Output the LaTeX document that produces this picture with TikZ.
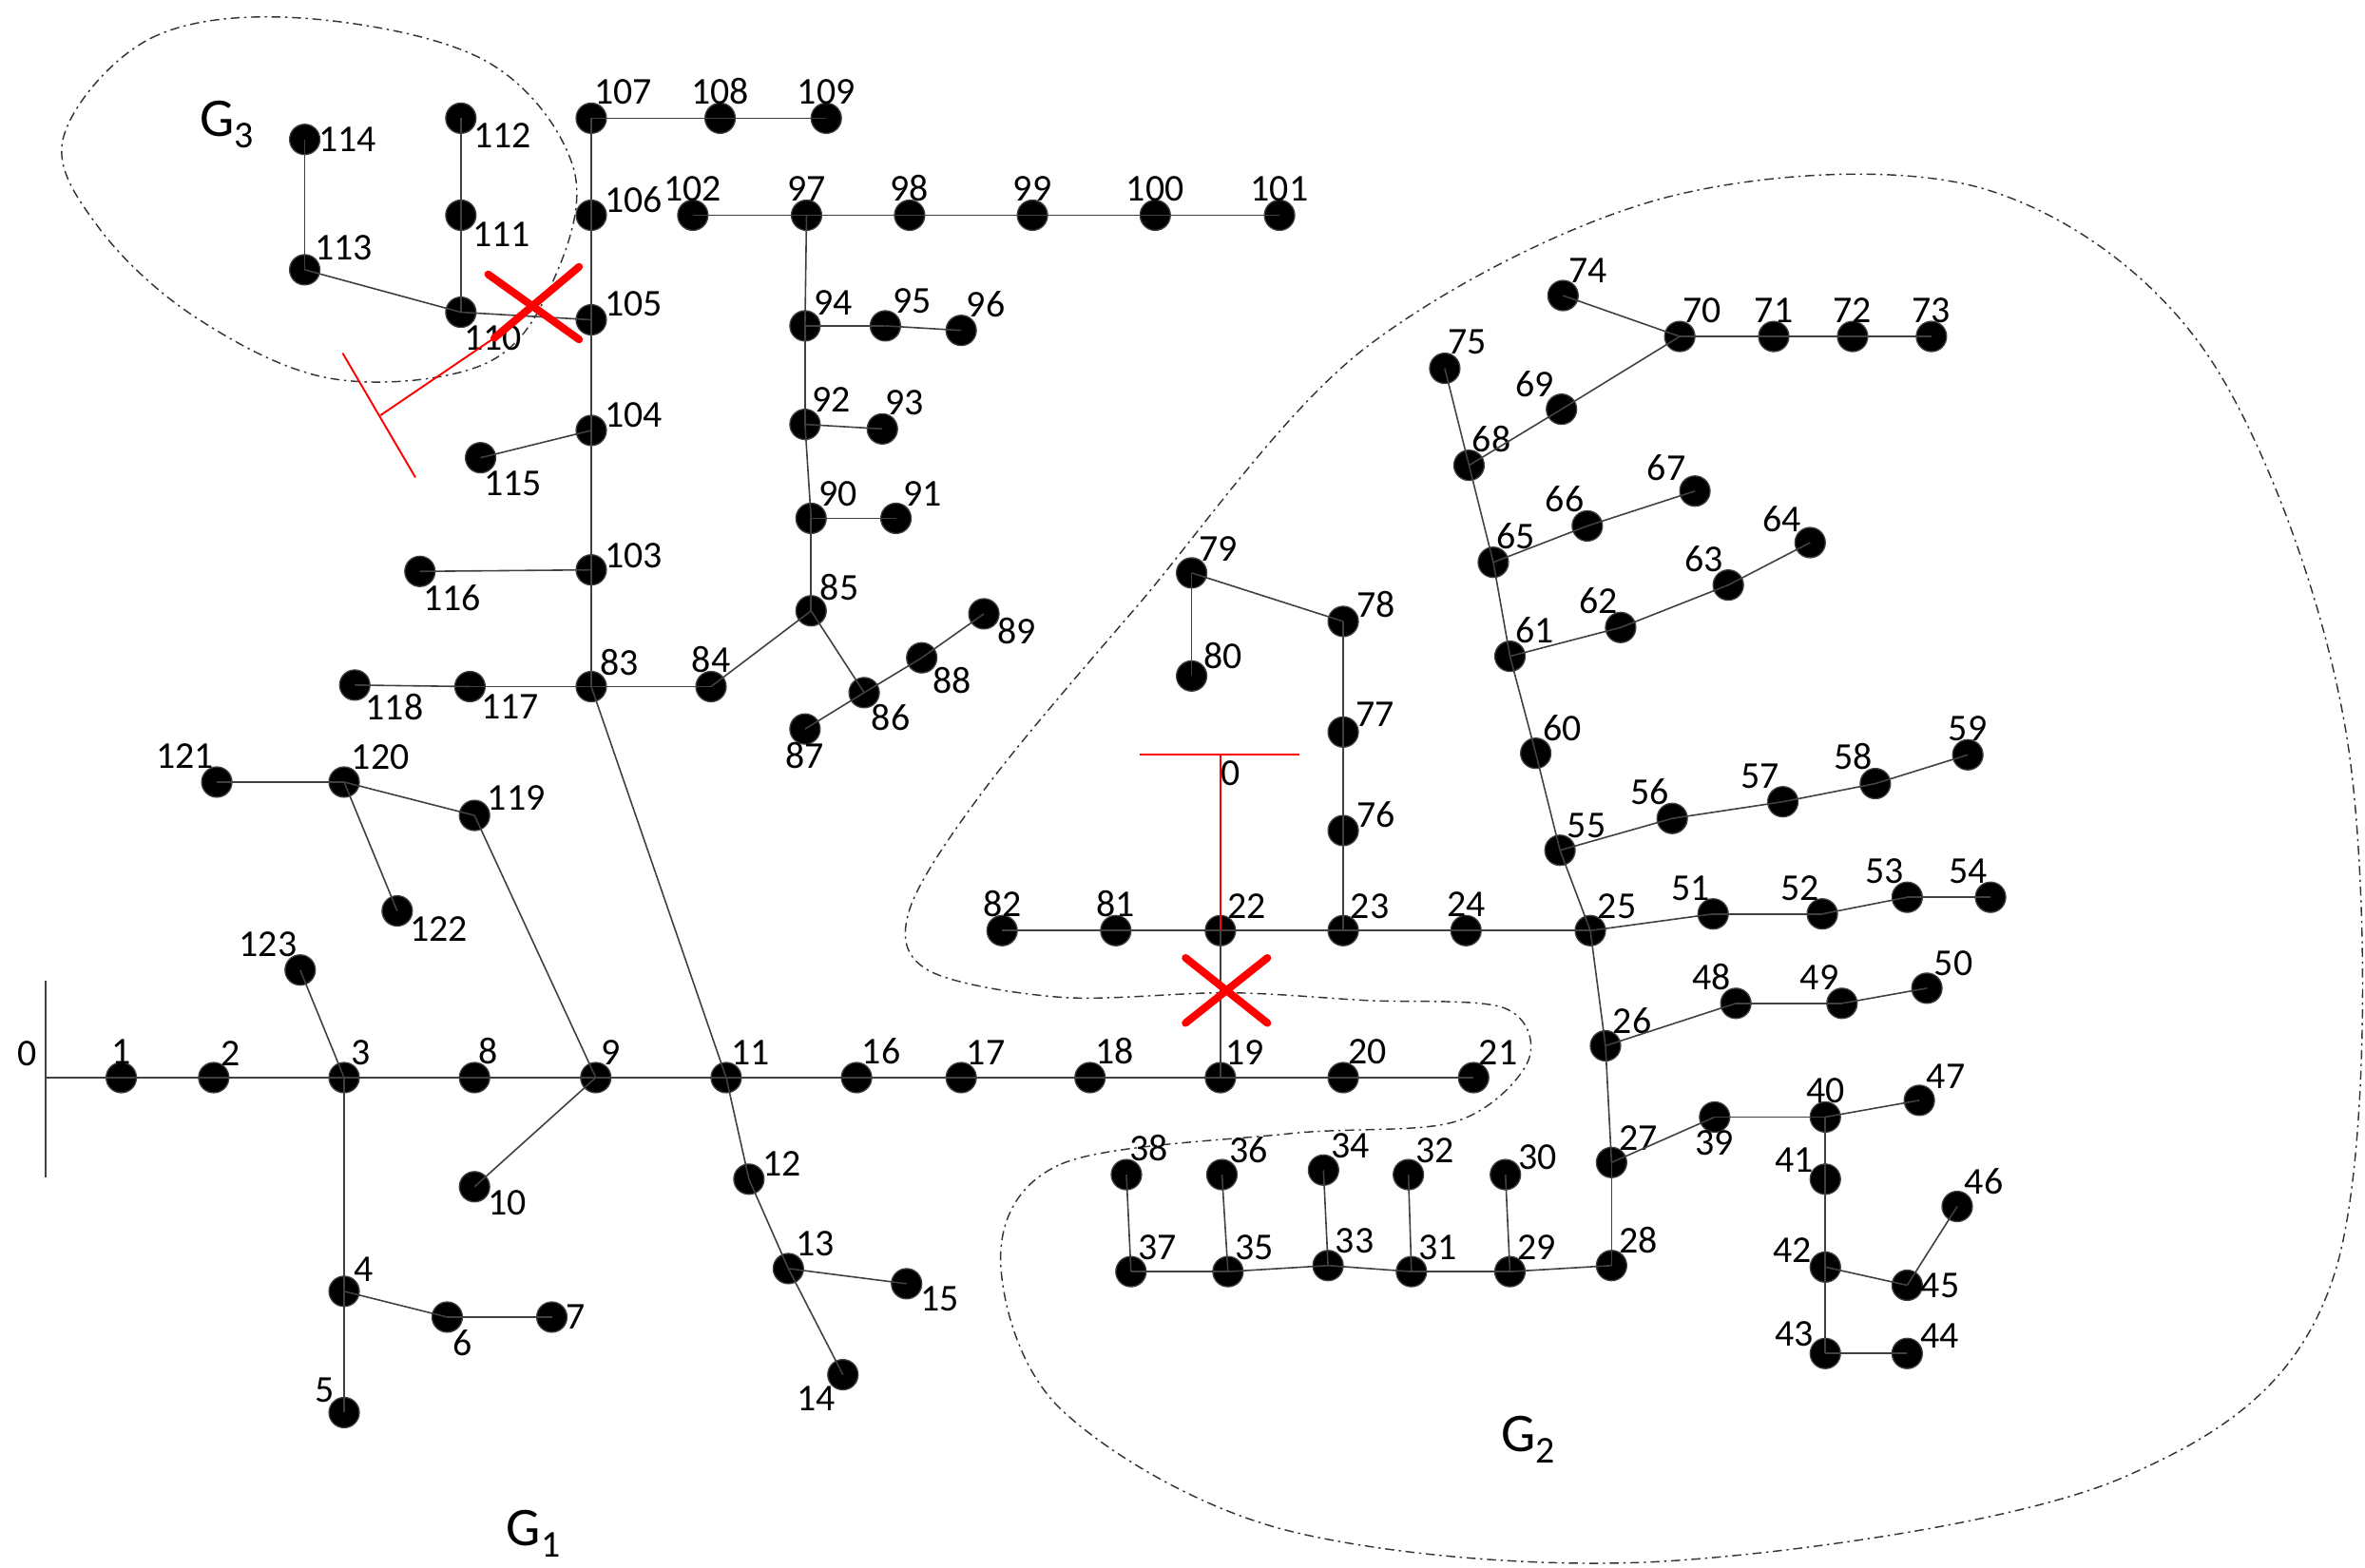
\documentclass[tikz,border=0pt]{standalone}
\usepackage{fontspec}
\setmainfont{Carlito}
\begin{document}
\begin{tikzpicture}[x=1pt,y=-1pt,
  bus/.style={circle,fill=black,draw=black!75,line width=0.8pt,minimum size=20pt,inner sep=0pt},
  ln/.style={draw=black!75,line width=1pt},
  rd/.style={draw=red,line width=1.2pt},
  cut/.style={draw=red,line width=5pt,line cap=round},
  reg/.style={draw=black!80,line width=0.9pt,dash pattern=on 6pt off 3pt on 1.5pt off 3pt},
  every label/.style={font=\fontsize{25}{26}\selectfont,inner sep=0.5pt}]
\useasboundingbox (0,0) rectangle (1560,1034);
\newcommand\N[4]{\node[bus,label={[label distance=-2pt]#4:#1}] (n#1) at (#2,#3) {};}
% regions
\draw[reg] plot[smooth cycle,tension=0.6] coordinates{(42,90) (100,25) (200,12) (320,40) (378,110) (365,185) (320,240) (220,250) (130,210) (65,150)};
\draw[reg] plot[smooth cycle,tension=0.55] coordinates{(660,830) (700,768) (850,748) (960,740) (1008,700) (992,665) (900,660) (810,655) (700,658) (612,640) (600,600) (650,520) (750,400) (900,230) (1100,130) (1310,125) (1460,240) (1550,500) (1540,840) (1400,975) (1100,1030) (850,1010) (700,930)};
% nodes
\N{1}{80}{711}{90}\N{2}{141}{711}{60}\N{3}{227}{711}{60}\N{8}{313}{711}{75}
\N{9}{393}{711}{70}\N{11}{479}{711}{70}\N{16}{565}{711}{70}\N{17}{634}{711}{70}
\N{18}{719}{711}{70}\N{19}{805}{711}{70}\N{20}{886}{711}{70}\N{21}{972}{711}{70}
\N{123}{198}{640}{100}\N{4}{227}{852}{45}\N{5}{227}{932}{135}\N{6}{295}{869}{-70}
\N{7}{364}{869}{0}\N{10}{313}{783}{-10}\N{12}{494}{778}{10}\N{13}{520}{837}{60}
\N{14}{556}{907}{240}\N{15}{598}{847}{-10}
\N{119}{313}{538}{20}\N{120}{227}{516}{60}\N{121}{143}{516}{100}\N{122}{262}{601}{-20}
\N{83}{390}{453}{50}\N{117}{310}{453}{-35}\N{118}{234}{452}{-40}\N{84}{469}{453}{90}
\N{85}{535}{403}{50}\N{86}{570}{457}{-60}\N{87}{531}{481}{270}\N{88}{608}{434}{-40}\N{89}{649}{405}{-15}
\N{90}{535}{342}{60}\N{91}{591}{342}{60}\N{92}{531}{280}{60}\N{93}{582}{283}{80}
\N{94}{531}{215}{50}\N{95}{584}{215}{60}\N{96}{634}{218}{70}\N{97}{532}{142}{90}
\N{102}{457}{142}{90}\N{98}{600}{142}{90}\N{99}{681}{142}{90}\N{100}{762}{142}{90}\N{101}{844}{142}{90}
\N{103}{390}{376}{5}\N{116}{277}{377}{-80}\N{104}{390}{284}{10}\N{115}{317}{302}{-80}
\N{105}{390}{211}{10}\N{110}{304}{206}{-80}\N{113}{201}{178}{45}\N{114}{201}{92}{0}
\N{111}{304}{142}{-30}\N{112}{304}{78}{-20}\N{106}{390}{142}{5}\N{107}{390}{78}{80}
\N{108}{475}{78}{90}\N{109}{545}{78}{90}
\N{82}{661}{614}{90}\N{81}{736}{614}{90}\N{22}{805}{614}{60}\N{23}{886}{614}{60}
\N{24}{967}{614}{90}\N{25}{1049}{614}{60}\N{26}{1059}{690}{60}\N{27}{1063}{767}{60}
\N{28}{1063}{835}{60}\N{29}{996}{839}{60}\N{31}{931}{839}{60}\N{33}{876}{835}{60}
\N{35}{810}{839}{60}\N{37}{746}{839}{60}\N{30}{993}{775}{20}\N{32}{929}{775}{60}
\N{34}{873}{772}{60}\N{36}{806}{775}{60}\N{38}{743}{775}{80}
\N{39}{1131}{737}{-90}\N{40}{1204}{737}{90}\N{47}{1266}{726}{60}\N{41}{1204}{778}{150}
\N{42}{1204}{836}{165}\N{45}{1258}{848}{0}\N{46}{1291}{796}{60}\N{43}{1204}{893}{150}\N{44}{1258}{893}{20}
\N{48}{1145}{662}{110}\N{49}{1215}{662}{100}\N{50}{1271}{652}{60}
\N{51}{1130}{603}{100}\N{52}{1202}{603}{100}\N{53}{1258}{592}{100}\N{54}{1313}{592}{100}
\N{55}{1029}{561}{60}\N{56}{1103}{540}{100}\N{57}{1176}{529}{100}\N{58}{1237}{517}{100}\N{59}{1298}{498}{90}
\N{60}{1013}{497}{60}\N{61}{996}{433}{70}\N{62}{1069}{414}{100}\N{63}{1140}{386}{110}\N{64}{1194}{358}{130}
\N{65}{985}{371}{80}\N{66}{1047}{347}{100}\N{67}{1118}{324}{130}
\N{68}{969}{307}{80}\N{75}{953}{243}{80}\N{69}{1030}{270}{120}\N{70}{1108}{222}{80}
\N{74}{1031}{195}{70}\N{71}{1170}{222}{90}\N{72}{1222}{222}{90}\N{73}{1274}{222}{90}
\N{76}{886}{548}{10}\N{77}{886}{483}{20}\N{78}{886}{410}{15}\N{79}{786}{378}{60}\N{80}{786}{446}{30}
% source
\coordinate (s0) at (30,711);
\draw[ln] (30,647) -- (30,777);
\node[font=\fontsize{25}{26}\selectfont] (t0) at (18,695) {0};
% edges
\foreach \a/\b in {s0/n1,n1/n2,n2/n3,n3/n8,n8/n9,n9/n11,n11/n16,n16/n17,n17/n18,n18/n19,n19/n20,n20/n21,
 n3/n123,n3/n4,n4/n5,n4/n6,n6/n7,n9/n10,n9/n119,n119/n120,n120/n121,n120/n122,
 n11/n12,n12/n13,n13/n14,n13/n15,n11/n83,n83/n117,n117/n118,n83/n84,n84/n85,n85/n86,n86/n87,n86/n88,n88/n89,
 n85/n90,n90/n91,n90/n92,n92/n93,n92/n94,n94/n95,n95/n96,n94/n97,n97/n102,n97/n98,n98/n99,n99/n100,n100/n101,
 n83/n103,n103/n116,n103/n104,n104/n115,n104/n105,n105/n110,n110/n113,n113/n114,n110/n111,n111/n112,
 n105/n106,n106/n107,n107/n108,n108/n109,
 n19/n22,n22/n81,n81/n82,n22/n23,n23/n24,n24/n25,n23/n76,n76/n77,n77/n78,n78/n79,n79/n80,
 n25/n26,n26/n27,n27/n28,n28/n29,n29/n31,n31/n33,n33/n35,n35/n37,n29/n30,n31/n32,n33/n34,n35/n36,n37/n38,
 n27/n39,n39/n40,n40/n47,n40/n41,n41/n42,n42/n43,n43/n44,n42/n45,n45/n46,
 n26/n48,n48/n49,n49/n50,n25/n51,n51/n52,n52/n53,n53/n54,n25/n55,n55/n56,n56/n57,n57/n58,n58/n59,
 n55/n60,n60/n61,n61/n62,n62/n63,n63/n64,n61/n65,n65/n66,n66/n67,n65/n68,n68/n75,n68/n69,n69/n70,n70/n71,n71/n72,n72/n73,n70/n74}
  {\draw[ln] (\a.center) -- (\b.center);}
% red elements
\coordinate (ra) at (326,223); \coordinate (rb) at (251,274);
\draw[rd] (ra) -- (rb); \draw[rd] (226,233) -- (274,315);
\draw[cut] (322,181) -- (382,224); \draw[cut] (326,223) -- (382,176);
\coordinate (rc) at (805,498);
\draw[rd] (n22.center) -- (rc); \draw[rd] (752,498) -- (857,498);
\node[font=\fontsize{25}{26}\selectfont] (t0b) at (812,510) {0};
\draw[cut] (782,632) -- (836,675); \draw[cut] (782,675) -- (836,632);
% group labels
\node[font=\fontsize{36}{38}\selectfont] (g3) at (150,82) {G\textsubscript{\fontsize{25}{25}\selectfont 3}};
\node[font=\fontsize{36}{38}\selectfont] (g1) at (352,1012) {G\textsubscript{\fontsize{25}{25}\selectfont 1}};
\node[font=\fontsize{36}{38}\selectfont] (g2) at (1008,950) {G\textsubscript{\fontsize{25}{25}\selectfont 2}};
\end{tikzpicture}
\end{document}
